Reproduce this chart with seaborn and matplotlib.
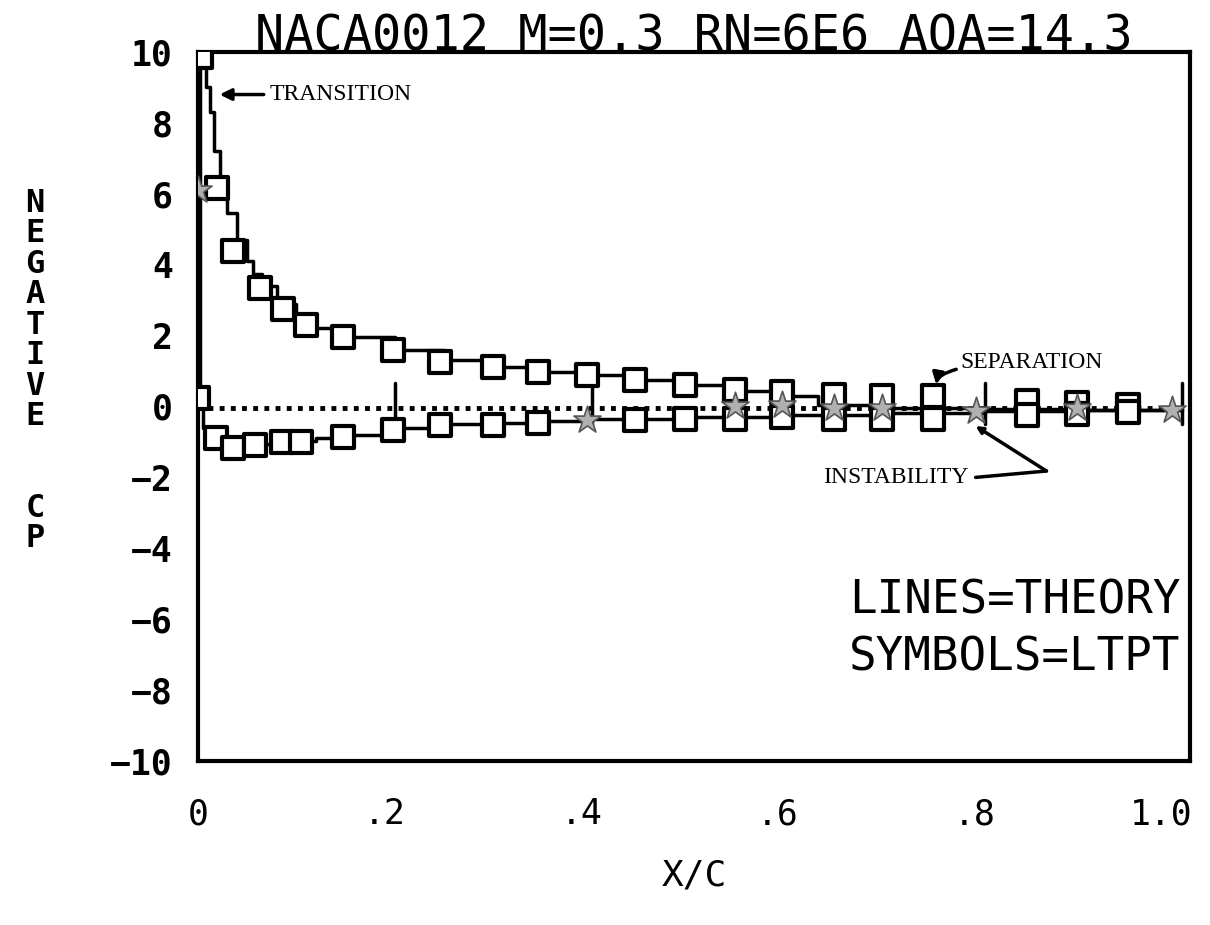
import matplotlib
matplotlib.use("Agg")
import matplotlib.pyplot as plt
import matplotlib.transforms as mtransforms
import seaborn as sns
import pandas as pd
import numpy as np

# theory lines (upper and lower surface)
x_thu = [0.0, 0.002, 0.008, 0.012, 0.016, 0.022, 0.03, 0.04, 0.05, 0.056, 0.065, 0.08, 0.1,
         0.12, 0.15, 0.2, 0.25, 0.3, 0.35, 0.4, 0.45, 0.5, 0.55, 0.6, 0.63, 0.7, 0.8, 0.9, 1.0]
cp_thu = [0.2, 10.0, 9.0, 8.3, 7.2, 6.2, 5.45, 4.7, 4.1, 3.75, 3.4, 2.9, 2.5,
          2.2, 1.95, 1.6, 1.3, 1.12, 0.97, 0.88, 0.75, 0.6, 0.45, 0.3, 0.05, -0.05, -0.08, -0.1, -0.1]
x_thl = [0.0, 0.005, 0.015, 0.03, 0.06, 0.09, 0.12, 0.15, 0.2, 0.25, 0.3, 0.35, 0.4, 0.5,
         0.6, 0.7, 0.8, 0.9, 1.0]
cp_thl = [0.2, -0.6, -0.95, -1.1, -1.05, -0.98, -0.9, -0.8, -0.62, -0.5, -0.47, -0.42, -0.36,
          -0.3, -0.25, -0.18, -0.12, -0.1, -0.1]

# LTPT symbols
x_up = [0.003, 0.019, 0.036, 0.063, 0.086, 0.11, 0.147, 0.198, 0.246, 0.3, 0.345, 0.395,
        0.444, 0.495, 0.546, 0.593, 0.646, 0.695, 0.747, 0.842, 0.893, 0.945]
cp_up = [9.85, 6.15, 4.4, 3.35, 2.75, 2.3, 1.96, 1.6, 1.26, 1.12, 0.97, 0.89,
         0.75, 0.6, 0.46, 0.4, 0.32, 0.3, 0.3, 0.15, 0.1, 0.05]
x_lo = [0.0, 0.018, 0.036, 0.058, 0.085, 0.105, 0.147, 0.198, 0.246, 0.3, 0.345, 0.444,
        0.495, 0.546, 0.593, 0.646, 0.695, 0.747, 0.842, 0.893, 0.945]
cp_lo = [0.24, -0.89, -1.17, -1.08, -1.0, -1.0, -0.86, -0.66, -0.52, -0.52, -0.47, -0.38,
         -0.35, -0.35, -0.3, -0.35, -0.35, -0.35, -0.25, -0.2, -0.15]
x_st = [0.0, 0.395, 0.546, 0.593, 0.646, 0.695, 0.79, 0.893, 0.99]
cp_st = [6.1, -0.38, 0.0, 0.05, -0.05, -0.05, -0.13, -0.05, -0.1]

xticks = [0, 0.2, 0.4, 0.6, 0.8, 1.0]
xtick_labels = ["0", ".2", ".4", ".6", ".8", "1.0"]
yticks = [-10, -8, -6, -4, -2, 0, 2, 4, 6, 8, 10]

sns.set_style("white")
plt.rcParams['font.family'] = ['DejaVu Sans Mono']
plt.rcParams['text.color'] = 'black'
plt.rcParams['axes.labelcolor'] = 'black'
plt.rcParams['xtick.color'] = 'black'
plt.rcParams['ytick.color'] = 'black'

fig = plt.figure(figsize=(12.1, 9.25), dpi=100)
ax = fig.add_axes([0.1636, 0.1773, 0.82, 0.7665])

thu = pd.DataFrame({"x": x_thu, "cp": cp_thu})
thl = pd.DataFrame({"x": x_thl, "cp": cp_thl})
sns.lineplot(data=thu, x="x", y="cp", sort=False, estimator=None, color="black",
             lw=2.5, drawstyle="steps-post", ax=ax)
sns.lineplot(data=thl, x="x", y="cp", sort=False, estimator=None, color="black",
             lw=2.5, drawstyle="steps-post", ax=ax)
ax.plot([0.01, 1.0], [-0.05, -0.05], ls=(0, (1, 1.3)), lw=3.5, color="black")

# zero axis ticks
for xt in xticks[1:]:
    ax.plot([xt, xt], [-0.5, 0.65], color="black", lw=2.5)

sns.scatterplot(x=x_up, y=cp_up, marker="s", s=260, facecolor="white", edgecolor="black",
                linewidth=3, ax=ax, zorder=4)
sns.scatterplot(x=x_lo, y=cp_lo, marker="s", s=260, facecolor="white", edgecolor="black",
                linewidth=3, ax=ax, zorder=4)
sns.scatterplot(x=x_st, y=cp_st, marker="*", s=420, facecolor="#b0b0b0", edgecolor="#555555",
                linewidth=1.2, ax=ax, zorder=5)

ax.set_xlim(0, 1.008)
ax.set_ylim(-10, 10)
ax.set_xticks(xticks)
ax.set_xticklabels(xtick_labels)
ax.set_yticks(yticks)
ax.set_yticks(yticks, minor=True)
ax.yaxis.remove_overlapping_locs = False
ax.tick_params(axis="x", direction="in", length=24, width=2.5, pad=26, labelsize=25)
ax.tick_params(axis="y", which="major", direction="in", length=24, width=2.5, pad=18,
               labelsize=25)
ax.tick_params(axis="y", which="minor", direction="out", length=13, width=2.5)
for lab in ax.get_yticklabels():
    lab.set_fontweight("bold")
shift = mtransforms.ScaledTranslation(0.104, 0, fig.dpi_scale_trans)
for lab in ax.get_xticklabels():
    lab.set_horizontalalignment("right")
    lab.set_transform(lab.get_transform() + shift)
for s in ax.spines.values():
    s.set_linewidth(3)
    s.set_color("black")

ax.set_xlabel("X/C", fontsize=26, labelpad=20)
ax.set_ylabel("")
ax.set_title("NACA0012 M=0.3 RN=6E6 AOA=14.3", fontsize=35, pad=1)

fig.text(0.029, 0.599, "\n".join("NEGATIVE") + "\n\n\nC\nP", ha="center", va="center",
         fontsize=23, fontweight="bold", linespacing=0.98)

serif = ["Liberation Serif"]
ax.annotate("TRANSITION", xy=(0.022, 8.8), xytext=(0.073, 8.8), family=serif, fontsize=17,
            va="center", arrowprops=dict(arrowstyle="-|>", color="black", lw=2.5,
                                         shrinkA=2, shrinkB=0))
ax.annotate("SEPARATION", xy=(0.75, 0.62), xytext=(0.775, 1.25), family=serif, fontsize=17,
            va="center", arrowprops=dict(arrowstyle="-|>", color="black", lw=2.5, shrinkA=1,
                                         shrinkB=0,
                                         connectionstyle="angle3,angleA=0,angleB=80"))
ax.text(0.635, -2.0, "INSTABILITY", family=serif, fontsize=17, va="center")
ax.annotate("", xy=(0.79, -0.55), xytext=(0.862, -1.82),
            arrowprops=dict(arrowstyle="-|>", color="black", lw=2.5, shrinkA=0, shrinkB=0))
ax.plot([0.79, 0.862], [-2.0, -1.82], color="black", lw=2.5)

ax.text(0.998, -5.5, "LINES=THEORY", ha="right", va="center", fontsize=33)
ax.text(0.998, -7.1, "SYMBOLS=LTPT", ha="right", va="center", fontsize=33)

fig.savefig("out.png", dpi=100)
